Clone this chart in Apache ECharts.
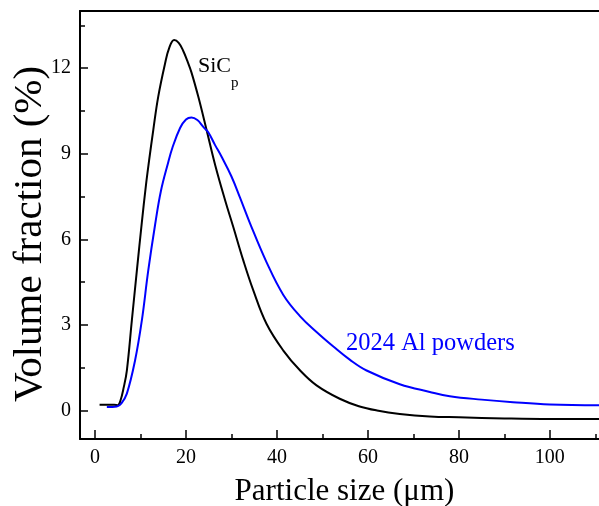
<!DOCTYPE html>
<html>
<head>
<meta charset="utf-8">
<script src="https://cdn.jsdelivr.net/npm/echarts@6/dist/echarts.min.js"></script>
<style>
  html, body { margin: 0; padding: 0; background: #fff; }
  #chart { width: 599px; height: 506px; }
</style>
</head>
<body>
<div id="chart"></div>
<script>
// particle size (um) / volume fraction (%)
const sicSize = [1, 2.5, 4.2, 5, 5.6, 6.3, 7, 8.1, 9.2, 10.3, 11.2, 11.9, 12.8, 13.9, 15.4, 16.3, 17.4, 18.4, 19.4, 20.3, 21.2, 22.7, 24.5, 26.5, 28.6, 30.4, 32.6, 34.8, 37.7, 41.4, 45.1, 48.7, 53.8, 58, 62, 67, 73.6, 80, 90, 100, 111]
const sicFrac = [0.2, 0.2, 0.2, 0.18, 0.35, 0.8, 1.4, 3.16, 4.9, 6.6, 7.9, 8.77, 9.82, 11.0, 12.16, 12.7, 12.98, 12.88, 12.6, 12.25, 11.85, 11.0, 9.85, 8.55, 7.37, 6.43, 5.26, 4.21, 3.04, 2.1, 1.4, 0.88, 0.41, 0.15, 0.0, -0.12, -0.21, -0.24, -0.28, -0.3, -0.3]

const alSize = [2.6, 4.8, 5.8, 7, 8.8, 10.3, 11.7, 13.2, 14.5, 16.1, 17, 18.7, 20, 21.2, 22.5, 23.8, 24.9, 26.4, 27.8, 30, 31.9, 34.1, 37.7, 41.4, 45.1, 48.7, 52.4, 56, 59.7, 67, 73.6, 78, 85, 91.9, 100, 111]
const alFrac = [0.12, 0.14, 0.25, 0.59, 1.75, 3.16, 4.9, 6.5, 7.7, 8.7, 9.2, 9.9, 10.2, 10.27, 10.18, 9.94, 9.75, 9.3, 8.9, 8.2, 7.45, 6.55, 5.2, 4.05, 3.3, 2.75, 2.24, 1.78, 1.4, 0.92, 0.65, 0.5, 0.38, 0.29, 0.21, 0.18]

const xMajor = [0, 20, 40, 60, 80, 100]
const xMinor = [10, 30, 50, 70, 90, 110]
const yMajor = [0, 3, 6, 9, 12]
const yMinor = [1.5, 4.5, 7.5, 10.5, 13.5]

const serif = 'Liberation Serif'
const xMin = -3.3, xMax = 110.8
const yMin = -1, yMax = 14

const toPairs = (xs, ys) => xs.map((x, i) => [x, ys[i]])

// extra axis that only draws ticks at given values
const tickAxis = (pos, min, max, values, len) => ({
  type: 'value', position: pos, min: min, max: max,
  splitLine: { show: false },
  axisLine: { show: false, onZero: false },
  axisTick: { show: true, inside: true, length: len, customValues: values, lineStyle: { color: '#000', width: 1.5 } },
  axisLabel: { show: false }
})

const chart = echarts.init(document.getElementById('chart'))

const option = {
  animation: false,
  grid: { left: 80, top: 11, right: 0, bottom: 67, containLabel: false, outerBoundsMode: 'none' },
  xAxis: [
    {
      type: 'value', position: 'bottom', min: xMin, max: xMax,
      splitLine: { show: false },
      axisLine: { show: true, onZero: false, lineStyle: { color: '#000', width: 2 } },
      axisTick: { show: false },
      axisLabel: { customValues: xMajor, margin: 9, color: '#000', fontFamily: serif, fontSize: 20 },
      name: 'Particle size (\u03bcm)', nameLocation: 'middle', nameGap: 37,
      nameTextStyle: { color: '#000', fontFamily: serif, fontSize: 31, padding: [0, 0, 0, 10] }
    },
    tickAxis('bottom', xMin, xMax, xMajor, 9),
    tickAxis('bottom', xMin, xMax, xMinor, 5),
    {
      type: 'value', position: 'top', min: xMin, max: xMax,
      splitLine: { show: false },
      axisLine: { show: true, onZero: false, lineStyle: { color: '#000', width: 2 } },
      axisTick: { show: false },
      axisLabel: { show: false }
    }
  ],
  yAxis: [
    {
      type: 'value', position: 'left', min: yMin, max: yMax,
      splitLine: { show: false },
      axisLine: { show: true, onZero: false, lineStyle: { color: '#000', width: 2 } },
      axisTick: { show: false },
      axisLabel: { customValues: yMajor, margin: 9, color: '#000', fontFamily: serif, fontSize: 20 }
    },
    tickAxis('left', yMin, yMax, yMajor, 8),
    tickAxis('left', yMin, yMax, yMinor, 5)
  ],
  series: [
    {
      name: 'SiCp', type: 'line', data: toPairs(sicSize, sicFrac),
      smooth: 0.4, showSymbol: false,
      lineStyle: { color: '#000', width: 2 }
    },
    {
      name: '2024 Al powders', type: 'line', data: toPairs(alSize, alFrac),
      smooth: 0.4, showSymbol: false,
      lineStyle: { color: '#0000ff', width: 2 }
    }
  ],
  graphic: [
    // y axis title, a bit larger than the x one like in the figure
    {
      type: 'text', x: 30, y: 234, rotation: Math.PI / 2,
      style: { text: 'Volume fraction (%)', fill: '#000', font: '41px "Liberation Serif"', align: 'center', verticalAlign: 'middle' }
    },
    { type: 'text', left: 198, top: 55, style: { text: 'SiC', fill: '#000', font: '22px "Liberation Serif"' } },
    { type: 'text', left: 231, top: 76, style: { text: 'p', fill: '#000', font: '15px "Liberation Serif"' } },
    { type: 'text', left: 346, top: 331, style: { text: '2024 Al powders', fill: '#0000ff', font: '24.5px "Liberation Serif"' } }
  ]
}

chart.setOption(option)
</script>
</body>
</html>
